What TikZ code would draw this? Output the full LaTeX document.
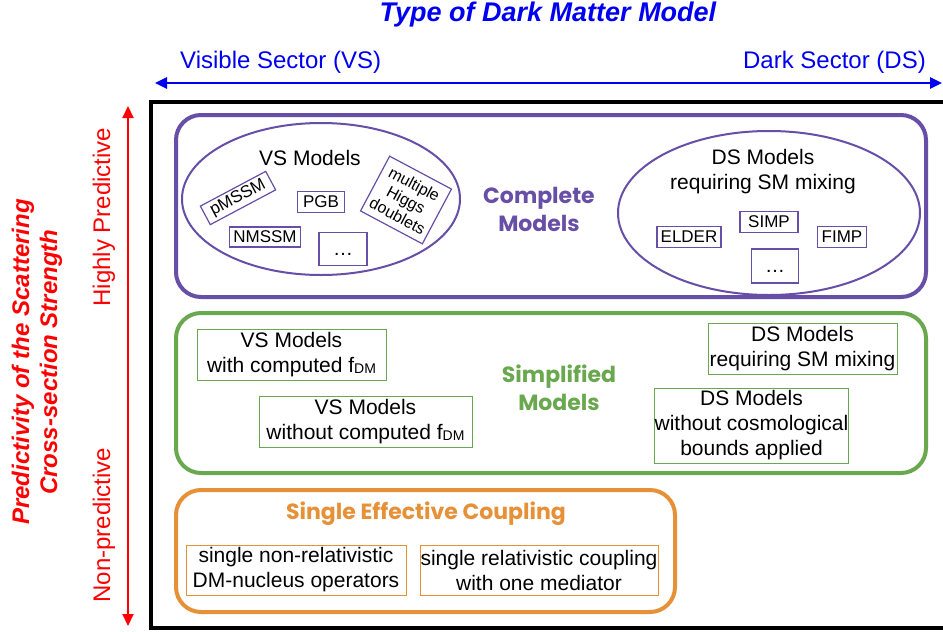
\documentclass[tikz,border=0pt]{standalone}
\usepackage{fontspec}
\setmainfont{Liberation Sans}
\newfontfamily\comicf{Poppins}
\usetikzlibrary{shapes.geometric,arrows.meta}
\definecolor{cpurple}{HTML}{674EA7}
\definecolor{cgreen}{HTML}{6AA84F}
\definecolor{corange}{HTML}{E69138}
\definecolor{cblue}{HTML}{0000F0}
\definecolor{cred}{HTML}{FF0000}
\newcommand\fdm{f\raisebox{-1.5pt}{\fontsize{14}{14}\selectfont DM}}
\begin{document}
\begin{tikzpicture}[x=1pt,y=-1pt,
  bigbox/.style={line width=4pt, rounded corners=25pt},
  ell/.style={ellipse, draw=cpurple, line width=2pt, inner sep=0pt},
  pbox/.style={draw=cpurple, line width=1.2pt, inner sep=0pt, align=center, font=\fontsize{17}{19}\selectfont},
  gbox/.style={draw=cgreen, line width=1pt, inner sep=0pt, align=center, font=\fontsize{21}{25}\selectfont},
  obox/.style={draw=corange, line width=1pt, inner sep=0pt, align=center, font=\fontsize{21}{25}\selectfont},
  bodytxt/.style={inner sep=0pt, align=center, font=\fontsize{21}{25}\selectfont},
  cattxt/.style={inner sep=0pt, align=center, font=\comicf\bfseries\fontsize{22}{28}\selectfont},
  axisarrow/.style={line width=2.5pt, {Triangle[length=12pt,width=11pt]}-{Triangle[length=12pt,width=11pt]}},
]
\useasboundingbox (0,0) rectangle (943,632);
\fill[white] (0,0) rectangle (943,632);

% axes
\node[inner sep=0pt, text=cblue, font=\bfseries\itshape\fontsize{27}{30}\selectfont] (title) at (548,15) {Type of Dark Matter Model};
\node[inner sep=0pt, anchor=west, text=cblue, font=\fontsize{24}{28}\selectfont] (vs) at (180,62) {Visible Sector (VS)};
\node[inner sep=0pt, anchor=east, text=cblue, font=\fontsize{24}{28}\selectfont] (ds) at (926,62) {Dark Sector (DS)};
\coordinate (hl) at (155,83);
\coordinate (hr) at (942,83);
\draw[axisarrow, cblue] (hl) -- (hr);

\coordinate (vt) at (128,106);
\coordinate (vb) at (128,626);
\draw[axisarrow, cred, line width=2pt] (vt) -- (vb);
\node[inner sep=0pt, rotate=90, text=cred, font=\fontsize{24}{28}\selectfont] (hp) at (104,217) {Highly Predictive};
\node[inner sep=0pt, rotate=90, text=cred, font=\fontsize{24}{28}\selectfont] (np) at (104,525) {Non-predictive};
\node[inner sep=0pt, rotate=90, align=center, text=cred, font=\bfseries\itshape\fontsize{24}{28}\selectfont] (pred) at (37,362) {Predictivity of the Scattering\\Cross-section Strength};

% frame
\draw[line width=4pt, black] (151,102) rectangle (960,628);

% complete models
\draw[bigbox, cpurple] (176,115) rectangle (926,297);
\node[ell, minimum width=278pt, minimum height=152pt] (vsell) at (321,199) {};
\node[ell, minimum width=302pt, minimum height=164pt] (dsell) at (769,213) {};
\node[bodytxt] (vsm) at (310,158) {VS Models};
\node[pbox, minimum width=74pt, minimum height=21pt, rotate=28] (pmssm) at (238,198) {pMSSM};
\node[pbox, minimum width=47pt, minimum height=21pt] (pgb) at (321,202) {PGB};
\node[pbox, minimum width=71pt, minimum height=20pt] (nmssm) at (265,237) {NMSSM};
\node[pbox, minimum width=48pt, minimum height=33pt, font=\fontsize{20}{20}\selectfont] (dots1) at (343,249) {\vphantom{A}\dots};
\node[pbox, minimum width=70pt, minimum height=62pt, rotate=-28, font=\fontsize{16}{18}\selectfont] (higgs) at (406,200) {multiple\\Higgs\\doublets};
\node[bodytxt] (dsm) at (763,172) {DS Models\\requiring SM mixing};
\node[pbox, minimum width=64pt, minimum height=21pt] (elder) at (689,237) {ELDER};
\node[pbox, minimum width=58pt, minimum height=21pt] (simp) at (769,222) {SIMP};
\node[pbox, minimum width=49pt, minimum height=21pt] (fimp) at (842,237) {FIMP};
\node[pbox, minimum width=47pt, minimum height=34pt, font=\fontsize{20}{20}\selectfont] (dots2) at (775,266) {\vphantom{A}\dots};
\node[cattxt, text=cpurple] (complete) at (539,209) {Complete\\Models};

% simplified models
\draw[bigbox, cgreen] (176,313) rectangle (926,473);
\node[gbox, minimum width=189pt, minimum height=51pt] (s1) at (291.5,354.5) {VS Models\\with computed \fdm};
\node[gbox, minimum width=213pt, minimum height=51pt] (s2) at (365.5,421.5) {VS Models\\without computed \fdm};
\node[gbox, minimum width=189pt, minimum height=51pt] (s3) at (802.5,348.5) {DS Models\\requiring SM mixing};
\node[gbox, minimum width=191pt, minimum height=75pt] (s4) at (751.5,425.5) {DS Models\\without cosmological\\bounds applied};
\node[cattxt, text=cgreen] (simplified) at (559,388) {Simplified\\Models};

% single effective coupling
\draw[bigbox, corange] (176,490) rectangle (675,612);
\node[cattxt, text=corange] (single) at (426,514) {Single Effective Coupling};
\node[obox, minimum width=220pt, minimum height=50pt] (o1) at (296,570) {single non-relativistic\\DM-nucleus operators};
\node[obox, minimum width=238pt, minimum height=50pt] (o2) at (539,570) {single relativistic coupling\\with one mediator};
\end{tikzpicture}
\end{document}
